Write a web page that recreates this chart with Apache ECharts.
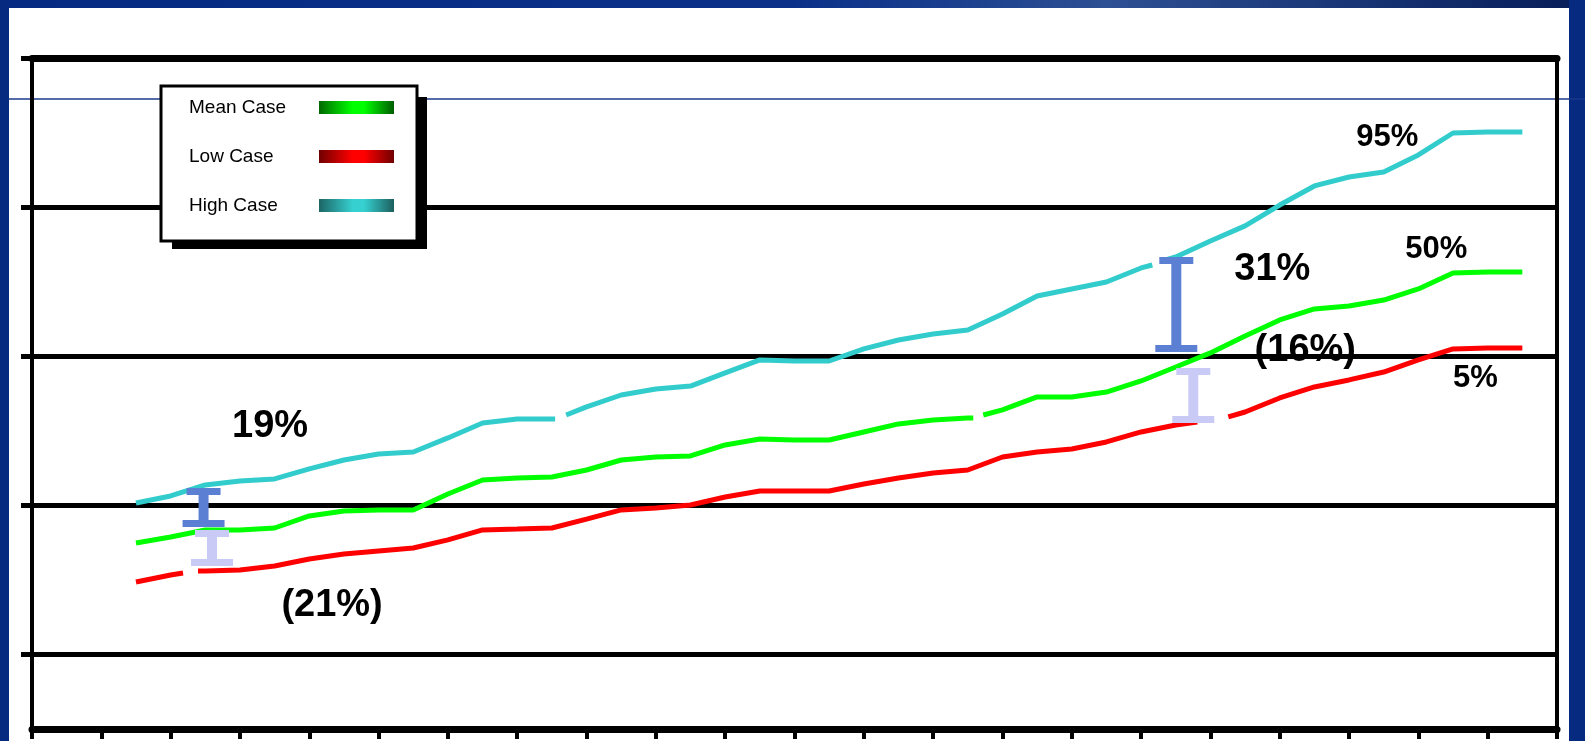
<!DOCTYPE html>
<html>
<head>
<meta charset="utf-8">
<script src="https://cdn.jsdelivr.net/npm/echarts@6/dist/echarts.min.js"></script>
<style>
html,body{margin:0;padding:0;background:#fff;}
#chart{width:1585px;height:741px;}
</style>
</head>
<body>
<div id="chart"></div>
<script>
// ---- data (x in period units 0..22, y in grid units; gridlines at 0..4) ----
const seriesNames = ['Mean Case', 'Low Case', 'High Case'];

const highCase = [
  [1.5,1.016],[2,1.063],[2.5,1.137],[3,1.163],[3.5,1.177],[4,1.244],[4.5,1.304],[5,1.344],
  [5.5,1.358],[6,1.452],[6.5,1.552],[7,1.579],[7.5,1.579],[7.547,1.579],null,[7.706,1.606],
  [8,1.660],[8.5,1.740],[9,1.780],[9.5,1.800],[10,1.888],[10.5,1.975],[11,1.968],[11.5,1.968],
  [12,2.049],[12.5,2.109],[13,2.149],[13.5,2.176],[14,2.283],[14.5,2.404],[15,2.451],[15.5,2.498],
  [16,2.592],[16.162,2.612],null,[16.306,2.639],[16.5,2.666],[17,2.773],[17.5,2.874],[18,3.014],
  [18.5,3.142],[19,3.202],[19.5,3.236],[20,3.350],[20.5,3.497],[21,3.504],[21.5,3.504]
];
const meanCase = [
  [1.5,0.747],[2,0.788],[2.5,0.835],[3,0.835],[3.5,0.848],[4,0.929],[4.5,0.962],[5,0.969],
  [5.5,0.969],[6,1.076],[6.5,1.170],[7,1.183],[7.5,1.190],[8,1.237],[8.5,1.304],[9,1.324],
  [9.5,1.331],[10,1.405],[10.5,1.445],[11,1.438],[11.5,1.438],[12,1.492],[12.5,1.546],[13,1.572],
  [13.5,1.586],[13.579,1.586],null,[13.723,1.606],[14,1.640],[14.5,1.727],[15,1.727],[15.5,1.760],
  [16,1.834],[16.5,1.928],[17,2.022],[17.5,2.136],[18,2.243],[18.5,2.317],[19,2.337],[19.5,2.377],
  [20,2.451],[20.5,2.558],[21,2.565],[21.5,2.565]
];
const lowCase = [
  [1.5,0.486],[2,0.533],[2.179,0.546],null,[2.395,0.560],[2.5,0.560],[3,0.566],[3.5,0.593],
  [4,0.640],[4.5,0.674],[5,0.694],[5.5,0.714],[6,0.768],[6.5,0.835],[7,0.841],[7.5,0.848],
  [8,0.908],[8.5,0.969],[9,0.982],[9.5,1.002],[10,1.056],[10.5,1.096],[11,1.096],[11.5,1.096],
  [12,1.143],[12.5,1.183],[13,1.217],[13.5,1.237],[14,1.324],[14.5,1.358],[15,1.378],[15.5,1.425],
  [16,1.492],[16.5,1.539],[16.811,1.559],null,[17.258,1.593],[17.5,1.626],[18,1.720],[18.5,1.794],
  [19,1.841],[19.5,1.894],[20,1.975],[20.5,2.049],[21,2.055],[21.5,2.055]
];

// spread bars: [x, top, bottom]
const upperSpread = [[2.475,1.116,0.855],[16.508,2.666,2.028]];
const lowerSpread = [[2.597,0.835,0.593],[16.753,1.921,1.552]];

// annotations: [x, y, text]
const spreadLabels = [[3.434,1.53,'19%'],[4.329,0.33,'(21%)'],[17.893,2.58,'31%'],[18.369,2.04,'(16%)']];
const percentileLabels = [[19.553,3.464,'95%'],[20.260,2.713,'50%'],[20.823,1.854,'5%']];

const xTicks = {min:0, max:22, interval:1};
const yGridValues = [0,1,2,3,4];

// ---- chart ----
const chart = echarts.init(document.getElementById('chart'), null, {renderer:'canvas'});

function grad(dark, bright, dark2){
  return {type:'linear', x:0, y:0, x2:1, y2:0, colorStops:[
    {offset:0, color:dark},{offset:0.45, color:bright},{offset:0.6, color:bright},{offset:1, color:dark2}]};
}
function iBeam(color){
  return function(params, api){
    const t = api.coord([api.value(0), api.value(1)]);
    const b = api.coord([api.value(0), api.value(2)]);
    const cx = t[0], top = t[1], bot = b[1], capH = 7, stemW = 10;
    return {type:'group', children:[
      {type:'rect', shape:{x:cx-stemW/2, y:top, width:stemW, height:bot-top}, style:{fill:color}},
      {type:'rect', shape:{x:cx-17, y:top, width:34, height:capH}, style:{fill:color}},
      {type:'rect', shape:{x:cx-21, y:bot-capH, width:42, height:capH}, style:{fill:color}}
    ]};
  };
}
const lineFont = 'Liberation Sans, Arial, sans-serif';
function textMark(fontSize){
  return function(params, api){
    const p = api.coord([api.value(0), api.value(1)]);
    return {type:'text', x:p[0], y:p[1], style:{
      text: api.value(2), fill:'#000000', align:'center', verticalAlign:'middle',
      font:'bold ' + fontSize + 'px ' + lineFont}};
  };
}

const option = {
  backgroundColor:'#ffffff',
  animation:false,
  grid:{left:32, right:28, top:58, bottom:12, containLabel:false},
  xAxis:[
    {type:'value', min:xTicks.min, max:xTicks.max, interval:xTicks.interval, position:'bottom',
     axisLine:{show:true, onZero:false, lineStyle:{color:'#000', width:7}},
     axisTick:{show:true, length:10, lineStyle:{color:'#000', width:4}},
     axisLabel:{show:false}, splitLine:{show:false}},
    {type:'value', min:xTicks.min, max:xTicks.max, interval:xTicks.interval, position:'top',
     axisLine:{show:true, onZero:false, lineStyle:{color:'#000', width:7}},
     axisTick:{show:false}, axisLabel:{show:false}, splitLine:{show:false}}
  ],
  yAxis:[
    {type:'value', min:-0.5, max:4, splitNumber:5, position:'left',
     axisLine:{show:true, onZero:false, lineStyle:{color:'#000', width:4}},
     axisTick:{show:true, inside:false, length:11, customValues:yGridValues, lineStyle:{color:'#000', width:5}},
     axisLabel:{show:false},
     splitLine:{show:true, lineStyle:{color:'#000', width:5}}},
    {type:'value', min:-0.5, max:4, splitNumber:5, position:'right',
     axisLine:{show:true, onZero:false, lineStyle:{color:'#000', width:4}},
     axisTick:{show:false}, axisLabel:{show:false}, splitLine:{show:false}}
  ],
  legend:{
    left:161, top:86, orient:'vertical', align:'right', icon:'rect',
    padding:[12,23,26,28], itemGap:30, itemWidth:75, itemHeight:13,
    backgroundColor:'#fff', borderColor:'#000', borderWidth:3,
    itemStyle:{borderWidth:0},
    formatter:'{a|{name}}',
    textStyle:{color:'#000', fontFamily:lineFont, fontSize:19,
      rich:{a:{width:125, align:'left', fontFamily:lineFont, fontSize:19, color:'#000'}}},
    data:[
      {name:seriesNames[0], itemStyle:{color:grad('#006800','#00ff00','#005c00')}},
      {name:seriesNames[1], itemStyle:{color:grad('#700000','#ff0000','#700000')}},
      {name:seriesNames[2], itemStyle:{color:grad('#1d6565','#36d0d0','#1d5e5e')}}
    ]
  },
  graphic:[
    {type:'rect', z:-10, shape:{x:0,y:0,width:1585,height:8}, style:{fill:{type:'linear',x:0,y:0,x2:1,y2:0,colorStops:[
      {offset:0,color:'#062a82'},{offset:0.5,color:'#0a3089'},{offset:0.7,color:'#2d4f93'},{offset:1,color:'#061c58'}]}}},
    {type:'rect', z:-10, shape:{x:0,y:0,width:9,height:741}, style:{fill:'#062a80'}},
    {type:'rect', z:-10, shape:{x:1569,y:0,width:16,height:741}, style:{fill:'#062a80'}},
    {type:'line', z:-10, shape:{x1:9,y1:99,x2:1585,y2:99}, style:{stroke:'#1a3a8a', lineWidth:1.5}},
    // legend drop shadow
    {type:'rect', z:-5, shape:{x:172,y:97,width:255,height:152}, style:{fill:'#000'}}
  ],
  series:[
    {name:seriesNames[2], type:'line', data:highCase, showSymbol:false, connectNulls:false,
     lineStyle:{color:'#33cccc', width:5}, itemStyle:{color:'#33cccc'}, z:3, silent:true},
    {name:seriesNames[0], type:'line', data:meanCase, showSymbol:false, connectNulls:false,
     lineStyle:{color:'#00ff00', width:5}, itemStyle:{color:'#00ff00'}, z:3, silent:true},
    {name:seriesNames[1], type:'line', data:lowCase, showSymbol:false, connectNulls:false,
     lineStyle:{color:'#ff0000', width:5}, itemStyle:{color:'#ff0000'}, z:3, silent:true},
    {name:'upper spread', type:'custom', data:upperSpread, renderItem:iBeam('#5b7fd2'), z:4, silent:true},
    {name:'lower spread', type:'custom', data:lowerSpread, renderItem:iBeam('#c9cbf6'), z:4, silent:true},
    {name:'spread labels', type:'custom', data:spreadLabels, renderItem:textMark(38), z:6, silent:true,
     dimensions:['x','y',{name:'t', type:'ordinal'}]},
    {name:'percentile labels', type:'custom', data:percentileLabels, renderItem:textMark(31), z:6, silent:true,
     dimensions:['x','y',{name:'t', type:'ordinal'}]}
  ]
};
chart.setOption(option);
</script>
</body>
</html>
